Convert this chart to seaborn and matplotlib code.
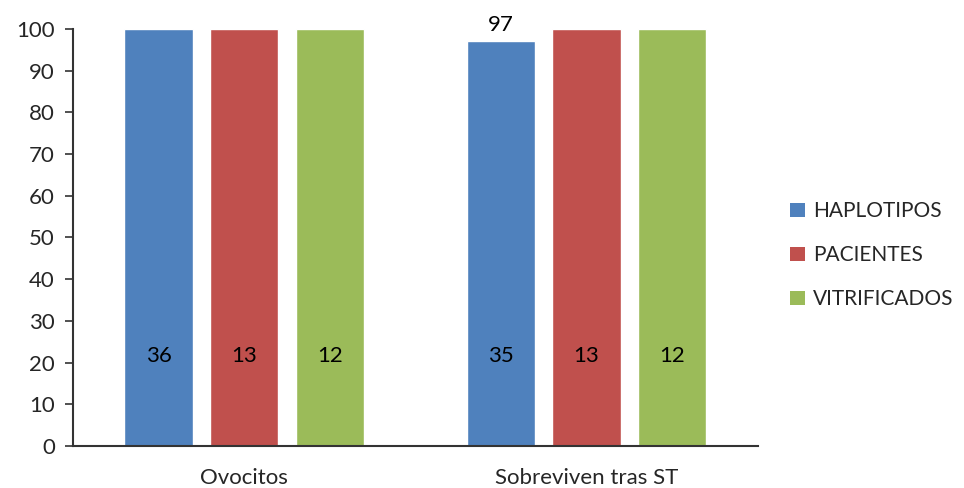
import matplotlib
matplotlib.use("Agg")
import matplotlib.pyplot as plt
import seaborn as sns
import pandas as pd
from matplotlib.patches import Patch

categories = ["Ovocitos", "Sobreviven tras ST"]
groups = ["HAPLOTIPOS", "PACIENTES", "VITRIFICADOS"]
percent = {
    "HAPLOTIPOS": [100, 97],
    "PACIENTES": [100, 100],
    "VITRIFICADOS": [100, 100],
}
counts = {
    "HAPLOTIPOS": [36, 35],
    "PACIENTES": [13, 13],
    "VITRIFICADOS": [12, 12],
}
palette = ["#4F81BD", "#C0504D", "#9BBB59"]

rows = []
for g in groups:
    for c, p, n in zip(categories, percent[g], counts[g]):
        rows.append({"categoria": c, "grupo": g, "pct": p, "n": n})
df = pd.DataFrame(rows)

sns.set_style("white")
plt.rcParams["font.family"] = ["Lato", "DejaVu Sans"]
FS = 16

fig = plt.figure(figsize=(9.64, 4.88), dpi=100)
ax = fig.add_axes([0.0757, 0.0861, 0.7103, 0.8545])

sns.barplot(data=df, x="categoria", y="pct", hue="grupo", order=categories,
            hue_order=groups, palette=palette, width=0.75, gap=0.2,
            saturation=1, ax=ax, legend=False)

ax.set_ylim(0, 100)
ax.set_yticks(range(0, 101, 10))
ax.set_xlim(-0.5, 1.5)
ax.set_xlabel("")
ax.set_ylabel("")

for s in ["top", "right"]:
    ax.spines[s].set_visible(False)
for s in ["left", "bottom"]:
    ax.spines[s].set_color("#333333")
    ax.spines[s].set_linewidth(1.5)

ax.tick_params(axis="y", which="both", left=True, length=6, width=1.2,
               color="#333333", labelsize=FS, pad=7)
ax.tick_params(axis="x", bottom=False, labelsize=FS, pad=12)

# counts written inside each bar, percent shown above the incomplete bar
for gi, g in enumerate(groups):
    cont = ax.containers[gi]
    for bar, p, n in zip(cont.patches, percent[g], counts[g]):
        cx = bar.get_x() + bar.get_width() / 2
        ax.text(cx, 21.5, str(n), ha="center", va="center", fontsize=FS,
                color="black")
        if p < 100:
            ax.text(cx, p + 1.5, str(p), ha="center", va="bottom",
                    fontsize=FS, color="black", clip_on=False)

handles = [Patch(facecolor=c, edgecolor="none") for c in palette]
fig.legend(handles, groups, loc="center left", bbox_to_anchor=(0.8, 0.477),
           frameon=False, fontsize=15, handlelength=0.7, handleheight=0.7,
           labelspacing=1.15, handletextpad=0.4)

fig.savefig("out.png", dpi=100)
